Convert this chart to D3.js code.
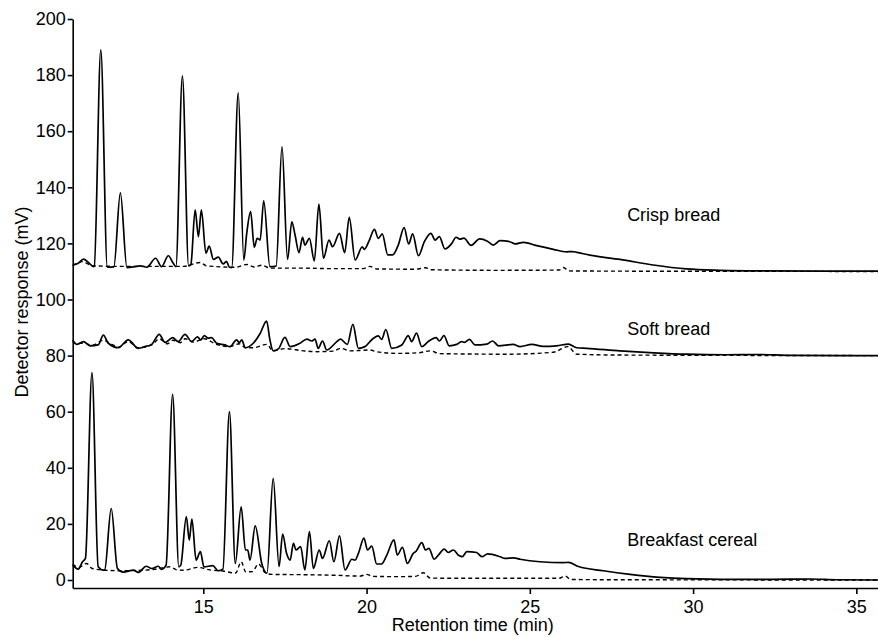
<!DOCTYPE html>
<html>
<head>
<meta charset="utf-8">
<script src="https://cdn.jsdelivr.net/npm/d3@7"></script>
<style>
	body { margin: 0; background: #fff; }
	svg text { font-family: Arial, "Liberation Sans", sans-serif; fill: #000; }
	.axis path, .axis line { stroke: #000; stroke-width: 1.6px; }
	.axis text { font-size: 18px; }
	.trace { fill: none; stroke: #000; stroke-width: 1.7px; stroke-linejoin: round; }
	.blank { stroke-dasharray: 4,3; stroke-width: 1.4px; }
</style>
</head>
<body>
<div id="chart"></div>
<script>
// retention time (min), detector response (mV)
var crispSample = [[11.0,112.3],[11.17,112.9],[11.33,114.4],[11.48,113.2],[11.64,111.7],[11.66,111.8],[11.86,189],[12.06,111.5],[12.26,111.6],[12.46,138],[12.66,111.4],[12.9,111.7],[13.06,112],[13.27,111.5],[13.54,114.7],[13.72,111.7],[13.93,115.6],[14.08,112.9],[14.16,111.7],[14.36,179.7],[14.55,112],[14.62,112.6],[14.75,132],[14.85,122.4],[14.94,132],[15.08,116.5],[15.18,119],[15.31,114.3],[15.46,115.1],[15.61,112.7],[15.71,113.6],[15.8,111.5],[15.87,111.4],[16.07,173.7],[16.24,114.1],[16.33,123.6],[16.45,131.3],[16.56,118.6],[16.65,121.8],[16.74,121.2],[16.85,135.2],[17.04,111.7],[17.23,111.9],[17.41,154.5],[17.58,114.3],[17.71,127.7],[17.81,123],[17.93,116.7],[18.04,122.2],[18.11,119.4],[18.25,121.8],[18.4,113.8],[18.54,134],[18.68,114.7],[18.85,121.2],[18.96,118.8],[19.17,123.6],[19.33,116.7],[19.47,129.3],[19.65,114.1],[19.87,118.8],[19.93,117.9],[20.08,121],[20.24,125],[20.36,121.8],[20.48,123.4],[20.65,115.9],[20.8,115.9],[20.97,119.4],[21.15,125.6],[21.29,119.8],[21.41,123.4],[21.59,115.6],[21.77,120.6],[21.97,123.6],[22.1,121.2],[22.23,122.4],[22.4,118],[22.61,120],[22.74,122.2],[22.86,121.5],[22.98,121.9],[23.2,119.3],[23.46,121.6],[23.7,120.8],[23.88,119.4],[24.09,121],[24.39,120.6],[24.55,119.8],[24.8,120.4],[25.21,119.2],[25.72,117.9],[26.13,117],[26.3,117.1],[26.44,116.8],[26.84,115.8],[27.76,114.3],[28.78,112.3],[29.8,110.9],[30.83,110.4],[32.0,110.2],[35.7,110.1]];
var crispBlank = [[11.0,112],[11.3,113.5],[11.6,112],[12.5,111.8],[13.5,111.8],[14.4,111.8],[14.9,113.2],[15.1,112],[16.0,111.5],[16.33,112.5],[16.55,111.6],[16.8,112.2],[17.04,111.2],[18.0,111.2],[19.0,111],[19.9,111],[20.1,111.8],[20.3,110.9],[21.5,110.8],[21.8,111.3],[22.0,110.6],[24.0,110.4],[25.9,110.5],[26.03,111.4],[26.2,110.2],[28.0,110.1],[35.7,110]];

var softSample = [[11.0,85.6],[11.12,84.0],[11.33,85.0],[11.53,83.5],[11.78,83.8],[11.94,87.3],[12.09,84.4],[12.4,82.8],[12.7,85.6],[13.01,82.6],[13.21,83.2],[13.42,84.0],[13.65,87.6],[13.83,84.7],[14.06,86.4],[14.23,85.0],[14.44,87.6],[14.64,85.0],[14.82,86.7],[14.92,85.6],[15.03,87.1],[15.15,86.2],[15.25,86.4],[15.41,84.4],[15.66,83.8],[15.82,83.2],[16.02,85.6],[16.1,84.6],[16.18,85.6],[16.28,82.8],[16.53,84.4],[16.74,87.9],[16.94,92.3],[17.04,85.6],[17.14,81.7],[17.3,82.4],[17.5,86.5],[17.66,83.2],[17.96,84.4],[18.17,85.9],[18.32,85.2],[18.42,85.9],[18.52,82.6],[18.65,85.2],[18.78,82.0],[19.09,85.0],[19.2,85.9],[19.41,84.0],[19.58,91.1],[19.75,82.6],[19.95,83.2],[20.21,86.2],[20.36,87.0],[20.46,85.8],[20.59,89.3],[20.77,82.6],[21.08,83.8],[21.28,87.1],[21.38,85.0],[21.53,88.0],[21.69,83.2],[21.89,85.0],[22.13,86.4],[22.23,85.2],[22.37,87.1],[22.53,83.5],[22.76,84.0],[22.91,85.0],[23.0,84.7],[23.15,85.8],[23.32,83.8],[23.68,84.1],[23.86,85.2],[24.04,83.5],[24.49,84.0],[24.7,83.2],[25.06,84.0],[25.41,83.3],[25.82,83.5],[26.18,84.1],[26.44,82.8],[26.74,82.6],[27.76,81.7],[28.8,81.0],[29.8,80.5],[31.0,80.3],[32.0,80.4],[33.0,80.1],[35.7,80.0]];
var softBlank = [[11.0,85.0],[11.12,84.2],[11.33,84.5],[11.6,83.6],[11.94,85.5],[12.2,84],[12.4,83],[12.7,85],[13.0,82.8],[13.42,83.8],[13.65,86],[13.9,84.2],[14.06,85.5],[14.3,84.6],[14.44,86],[14.7,84.8],[15.03,86],[15.4,84],[15.8,83.2],[16.1,84.2],[16.3,82.8],[16.53,82.8],[16.94,84],[17.14,81.7],[17.5,82.5],[18.07,81.7],[18.5,81.4],[19.0,81.6],[19.2,82.6],[19.5,81.7],[20.1,82],[20.3,81.4],[20.93,80.8],[21.6,81],[21.94,81.7],[22.25,80.7],[24.29,80.5],[25.72,81.2],[26.16,83.2],[26.44,80.5],[27.76,80.2],[35.7,80]];

var cerealSample = [[11.0,5.3],[11.17,3.9],[11.3,6.5],[11.39,7.7],[11.59,73.9],[11.78,4.7],[11.94,3.5],[11.98,3.6],[12.18,25.5],[12.37,4.1],[12.55,2.8],[12.86,3.5],[13.01,2.7],[13.25,4.9],[13.42,4.1],[13.62,4.9],[13.72,3.8],[13.86,5.3],[14.06,66.2],[14.25,4.7],[14.31,5.3],[14.48,22.6],[14.57,14.2],[14.65,21.7],[14.78,7.1],[14.91,10.1],[15.02,4.7],[15.29,5.1],[15.46,3.3],[15.6,3.8],[15.8,60],[15.98,5.9],[16.16,26.1],[16.29,10.7],[16.36,10.7],[16.43,7.1],[16.59,19.3],[16.79,5.9],[16.95,2.4],[17.14,36.2],[17.32,4.8],[17.43,16.4],[17.55,9.5],[17.66,7.1],[17.76,13.1],[17.84,10.7],[17.98,11.9],[18.11,3.6],[18.25,17.3],[18.37,4.1],[18.55,10.7],[18.65,7.7],[18.86,14.0],[19.0,6.5],[19.17,15.7],[19.34,3.6],[19.55,7.4],[19.65,7.1],[19.75,9.5],[19.92,14.9],[20.03,10.7],[20.16,12.1],[20.31,5.7],[20.46,5.7],[20.62,8.9],[20.84,14.3],[20.94,8.9],[21.1,11.6],[21.25,5.9],[21.43,9.5],[21.52,10.3],[21.69,13.3],[21.81,10.7],[21.91,11.3],[22.07,7.4],[22.2,8.9],[22.38,11.0],[22.5,9.8],[22.66,10.7],[22.83,8.7],[22.93,8.3],[23.07,10.1],[23.37,9.8],[23.53,8.3],[23.71,9.3],[24.09,8.3],[24.24,7.7],[24.5,7.9],[24.7,7.4],[25.31,6.5],[26.03,6.2],[26.18,6.3],[26.49,4.8],[27.25,3.3],[28.07,2.0],[28.99,0.95],[29.8,0.5],[31.85,0.2],[33.0,0.3],[33.58,0.35],[34.4,0.1],[35.7,0.0]];
var cerealBlank = [[11.0,5.7],[11.2,4.5],[11.42,5.9],[11.6,4.1],[12.0,3.5],[12.5,3.3],[13.0,3.4],[13.5,3.8],[13.98,4.7],[14.2,3.6],[14.41,3.5],[14.82,4.5],[15.2,3.6],[15.6,3.2],[15.99,2.5],[16.16,6.5],[16.3,2.9],[16.5,3.0],[16.69,5.7],[16.9,2.6],[17.1,2.0],[18.0,1.9],[19.0,1.7],[19.8,1.4],[20.0,2.0],[20.2,1.3],[21.0,1.2],[21.5,1.3],[21.74,2.6],[21.95,0.7],[23.0,0.6],[25.9,0.6],[26.08,1.4],[26.25,0.2],[27.5,0.1],[35.7,0]];

var sampleLabels = ["Crisp bread", "Soft bread", "Breakfast cereal"];
var labelLevels = [128, 87.3, 12.1];
var xTicks = [15, 20, 25, 30, 35];
var yTicks = [0, 20, 40, 60, 80, 100, 120, 140, 160, 180, 200];

chartDraw();

function chartDraw() {
	var width = 878,
		height = 637;

	var x = d3.scaleLinear()
		.domain([11, 35.7])
		.range([72.7, 879.2]);

	var y = d3.scaleLinear()
		.domain([-2.85, 200])
		.range([588, 19]);

	var svg = d3.select("#chart").append("svg")
		.attr("width", width)
		.attr("height", height);

	var line = d3.line()
		.curve(d3.curveMonotoneX)
		.x(function(d) { return x(d[0]); })
		.y(function(d) { return y(d[1]); });

	// blanks first, samples on top
	[crispBlank, softBlank, cerealBlank].forEach(function(s) {
		svg.append("path")
			.datum(s)
			.attr("class", "trace blank")
			.attr("d", line);
	});
	[crispSample, softSample, cerealSample].forEach(function(s) {
		svg.append("path")
			.datum(s)
			.attr("class", "trace")
			.attr("d", line);
	});

	svg.append("g")
		.attr("class", "axis")
		.attr("transform", "translate(0," + y(-2.85) + ")")
		.call(d3.axisBottom(x).tickValues(xTicks).tickSize(6).tickSizeOuter(0).tickPadding(6));

	svg.append("g")
		.attr("class", "axis")
		.attr("transform", "translate(" + x(11) + ",0)")
		.call(d3.axisLeft(y).tickValues(yTicks).tickSize(5).tickSizeOuter(0).tickPadding(2));

	svg.selectAll(".sampleLabel")
		.data(sampleLabels)
		.enter().append("text")
		.attr("class", "sampleLabel")
		.attr("x", x(27.98))
		.attr("y", function(d, i) { return y(labelLevels[i]); })
		.style("font-size", "18px")
		.text(function(d) { return d; });

	svg.append("text")
		.attr("x", x(23.25))
		.attr("y", 631)
		.attr("text-anchor", "middle")
		.style("font-size", "18px")
		.text("Retention time (min)");

	svg.append("text")
		.attr("transform", "translate(28," + 302 + ") rotate(-90)")
		.attr("text-anchor", "middle")
		.style("font-size", "18px")
		.text("Detector response (mV)");
}
</script>
</body>
</html>
